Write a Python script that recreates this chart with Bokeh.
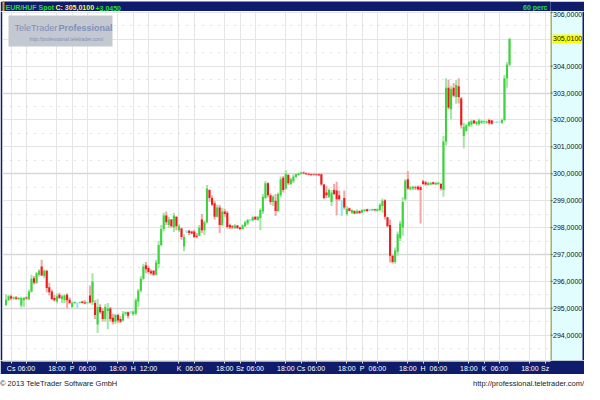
from bokeh.plotting import figure
from bokeh.models import (ColumnDataSource, FixedTicker, Range1d, Label, BoxAnnotation, Grid, Span, Div)
from bokeh.layouts import column, row
from bokeh.core.properties import value
from bokeh.embed import file_html
from bokeh.resources import INLINE

# ---------------- data ----------------
symbol_text = "EUR/HUF Spot"
close_text = "C: 305,0100"
change_text = "+3,0450"
interval_text = "60 perc"
last_price = 305.01
last_price_text = "305,0100"

first_bar = -2   # hourly bar index (0 = Thursday 00:00 of week 1)

opens = [
    295.12, 295.30, 295.45, 295.36, 295.40, 295.35, 295.10, 295.30, 295.40, 295.35,
    295.62, 296.12, 295.95, 296.25, 296.55, 296.20, 296.40, 295.78, 295.62, 295.38,
    295.25, 295.50, 295.35, 295.30, 295.50, 295.32, 295.05, 295.20, 295.20, 295.20,
    295.25, 295.22, 295.20, 295.48, 295.22, 295.20, 294.40, 295.05, 294.90, 294.60,
    294.90, 295.00, 294.65, 294.50, 294.75, 294.60, 294.55, 294.80, 294.85, 294.85,
    294.78, 294.80, 295.25, 295.65, 296.10, 296.60, 296.50, 296.38, 296.40, 296.25,
    296.65, 297.35, 297.95, 298.45, 298.10, 298.30, 298.00, 298.40, 297.90, 297.97,
    297.30, 297.85, 297.88, 297.85, 297.85, 297.70, 297.70, 298.30, 297.90, 298.20,
    299.40, 299.10, 298.90, 298.40, 298.75, 298.10, 298.60, 298.55, 298.10, 298.05,
    297.98, 298.08, 298.00, 297.95, 298.05, 298.15, 298.28, 298.26, 298.40, 298.28,
    298.35, 298.60, 299.10, 299.65, 299.20, 298.95, 299.00, 298.62, 299.20, 299.85,
    299.45, 299.95, 299.62, 299.72, 299.88, 299.95, 300.00, 300.05, 300.02, 300.00,
    299.98, 299.98, 299.98, 299.98, 299.98, 299.60, 299.30, 299.15, 298.95, 299.40,
    299.38, 299.20, 298.70, 299.10, 298.50, 298.72, 298.55, 298.62, 298.52, 298.62,
    298.55, 298.62, 298.68, 298.65, 298.64, 298.68, 298.62, 298.65, 298.80, 299.02,
    298.38, 298.10, 296.95, 296.72, 297.10, 297.60, 298.00, 299.05, 299.80, 299.42,
    299.45, 299.50, 299.52, 299.50, 299.72, 299.68, 299.58, 299.60, 299.68, 299.60,
    299.62, 299.62, 299.40, 301.20, 303.20, 302.40, 303.20, 302.85, 303.25, 302.80,
    301.40, 301.60, 301.78, 301.82, 301.98, 301.85, 301.85, 301.90, 301.92, 301.90,
    302.00, 301.98, 301.92, 301.92, 301.93, 301.90, 302.00, 303.55, 304.05,
]
highs = [
    295.52, 295.50, 295.50, 295.44, 295.46, 295.42, 295.44, 295.42, 295.45, 295.70,
    296.25, 296.20, 296.35, 296.45, 296.80, 296.45, 296.42, 295.95, 295.70, 295.50,
    295.55, 295.58, 295.50, 295.52, 295.56, 295.40, 295.25, 295.25, 295.22, 295.24,
    295.28, 295.30, 295.25, 295.85, 296.30, 295.30, 295.35, 295.15, 295.00, 295.15,
    295.20, 295.05, 294.80, 294.80, 294.80, 294.70, 294.90, 294.88, 294.88, 294.90,
    294.92, 295.38, 295.72, 296.20, 296.66, 296.72, 296.58, 296.45, 296.42, 296.80,
    297.50, 298.10, 298.55, 298.60, 298.40, 298.32, 298.55, 298.42, 298.12, 298.00,
    297.75, 297.90, 297.92, 297.88, 297.92, 297.80, 298.10, 298.50, 298.25, 299.58,
    299.42, 299.20, 299.00, 298.85, 298.85, 298.73, 298.70, 298.62, 298.15, 298.10,
    298.12, 298.10, 298.02, 298.12, 298.25, 298.32, 298.32, 298.42, 298.42, 298.42,
    298.72, 299.25, 299.73, 299.68, 299.28, 299.20, 299.25, 299.30, 299.90, 299.92,
    300.13, 300.00, 299.85, 299.98, 300.02, 300.04, 300.07, 300.08, 300.05, 300.04,
    300.02, 300.02, 300.01, 300.02, 300.00, 299.62, 299.55, 299.45, 299.40, 299.62,
    299.70, 299.38, 299.03, 299.38, 298.80, 298.75, 298.68, 298.64, 298.68, 298.64,
    298.68, 298.70, 298.70, 298.70, 298.70, 298.70, 298.72, 298.90, 299.08, 299.05,
    298.40, 298.30, 297.00, 297.26, 297.85, 298.25, 299.13, 299.80, 300.10, 299.55,
    299.55, 299.55, 299.56, 299.56, 299.78, 299.74, 299.70, 299.70, 299.70, 299.70,
    299.70, 299.66, 301.40, 303.55, 303.50, 303.27, 303.37, 303.49, 303.55, 302.85,
    301.90, 301.86, 301.96, 302.00, 302.00, 301.96, 302.05, 302.00, 301.98, 301.98,
    302.05, 302.00, 301.94, 301.94, 301.95, 302.05, 303.67, 304.15, 305.05,
]
lows = [
    295.08, 295.28, 295.30, 295.32, 295.32, 295.30, 295.02, 295.05, 295.32, 295.30,
    295.58, 295.88, 295.90, 296.18, 296.20, 296.12, 295.60, 295.48, 295.30, 295.25,
    295.18, 295.35, 295.20, 295.20, 295.00, 295.15, 295.00, 295.15, 295.00, 295.18,
    295.18, 295.15, 295.15, 295.18, 295.12, 294.60, 294.08, 294.80, 294.50, 294.50,
    294.22, 294.50, 294.40, 294.42, 294.45, 294.45, 294.52, 294.72, 294.62, 294.80,
    294.72, 294.74, 295.05, 295.60, 296.05, 296.30, 296.28, 296.25, 296.20, 296.22,
    296.50, 297.30, 297.85, 298.10, 297.98, 297.98, 297.84, 297.90, 297.84, 297.55,
    297.12, 297.80, 297.72, 297.75, 297.60, 297.60, 297.68, 297.80, 297.72, 298.15,
    298.96, 298.80, 298.30, 298.38, 297.80, 298.05, 298.40, 297.97, 297.95, 297.95,
    297.95, 297.95, 297.90, 297.92, 298.02, 298.10, 298.25, 298.24, 298.28, 298.25,
    297.90, 298.50, 299.05, 299.12, 298.85, 298.80, 298.43, 298.58, 299.13, 299.30,
    299.40, 299.58, 299.58, 299.66, 299.85, 299.92, 299.96, 299.98, 299.96, 299.94,
    299.92, 299.93, 299.92, 299.92, 299.55, 299.05, 299.10, 299.10, 298.80, 299.20,
    298.45, 299.00, 298.43, 298.67, 298.43, 298.60, 298.50, 298.50, 298.50, 298.50,
    298.53, 298.58, 298.58, 298.62, 298.62, 298.60, 298.60, 298.60, 298.55, 298.30,
    298.00, 296.70, 296.66, 296.66, 296.95, 297.50, 297.70, 299.00, 299.40, 299.38,
    299.40, 299.40, 299.38, 298.15, 299.58, 299.55, 299.55, 299.58, 299.58, 299.58,
    299.58, 299.38, 299.15, 301.05, 302.38, 302.03, 302.84, 302.60, 302.61, 301.68,
    300.95, 301.55, 301.74, 301.75, 301.85, 301.78, 301.78, 301.85, 301.85, 301.86,
    301.82, 301.82, 301.90, 301.88, 301.90, 301.86, 301.95, 303.20, 304.00,
]
closes = [
    295.32, 295.45, 295.36, 295.40, 295.35, 295.38, 295.38, 295.38, 295.36, 295.62,
    296.10, 295.95, 296.30, 296.40, 296.22, 296.40, 295.75, 295.60, 295.35, 295.30,
    295.45, 295.38, 295.45, 295.48, 295.30, 295.20, 295.20, 295.23, 295.20, 295.22,
    295.20, 295.18, 295.22, 295.22, 296.00, 294.75, 295.05, 294.85, 294.60, 295.05,
    295.00, 294.60, 294.50, 294.75, 294.55, 294.50, 294.80, 294.85, 294.72, 294.85,
    294.88, 295.30, 295.65, 296.10, 296.55, 296.45, 296.35, 296.30, 296.25, 296.70,
    297.35, 297.95, 298.45, 298.20, 298.30, 298.05, 298.45, 298.05, 298.05, 297.65,
    297.65, 297.85, 297.80, 297.78, 297.65, 297.66, 298.00, 297.90, 298.20, 299.45,
    299.10, 298.85, 298.40, 298.75, 298.10, 298.60, 298.50, 298.02, 298.00, 298.00,
    298.08, 297.98, 297.95, 298.08, 298.20, 298.28, 298.28, 298.38, 298.30, 298.40,
    298.65, 299.15, 299.65, 299.20, 298.95, 299.15, 298.62, 299.25, 299.80, 299.40,
    300.00, 299.65, 299.80, 299.90, 299.98, 300.02, 300.05, 300.01, 299.98, 299.96,
    299.95, 299.96, 299.95, 299.94, 299.60, 299.10, 299.20, 299.40, 299.30, 299.25,
    299.05, 299.05, 298.70, 298.75, 298.70, 298.62, 298.65, 298.52, 298.62, 298.54,
    298.65, 298.66, 298.62, 298.65, 298.68, 298.64, 298.68, 298.85, 299.00, 298.40,
    298.05, 296.95, 296.72, 297.15, 297.75, 298.15, 298.95, 299.75, 299.45, 299.50,
    299.52, 299.46, 299.42, 299.40, 299.62, 299.60, 299.66, 299.66, 299.62, 299.66,
    299.67, 299.45, 301.20, 303.20, 302.45, 303.15, 302.90, 303.30, 302.85, 301.80,
    301.75, 301.80, 301.92, 301.95, 301.88, 301.93, 301.98, 301.96, 301.95, 301.94,
    301.88, 301.86, 301.92, 301.92, 301.93, 302.00, 303.55, 304.05, 305.01,
]

price_ticks = [294, 295, 296, 297, 298, 299, 300, 301, 302, 303, 304, 306]
grid_levels = [294, 295, 296, 297, 298, 299, 300, 301, 302, 303, 304, 305, 306]
grid_half_levels = [293.5, 294.5, 295.5, 296.5, 297.5, 298.5, 299.5, 300.5, 301.5, 302.5, 303.5, 304.5, 305.5]
grid_strong_levels = [295, 297, 300, 303]

time_ticks = [0, 6, 18, 24, 30, 42, 48, 54, 66, 72, 84, 90, 96, 108,
              114, 120, 132, 138, 144, 156, 162, 168, 180, 186, 192, 204, 210]
time_labels = ["Cs", "06:00", "18:00", "P", "06:00", "18:00", "H", "12:00", "K", "06:00", "18:00", "Sz", "06:00", "18:00",
               "Cs", "06:00", "18:00", "P", "06:00", "18:00", "H", "06:00", "18:00", "K", "06:00", "18:00", "Sz"]

copyright_text = "\u00a9 2013 TeleTrader Software GmbH"
url_text = "http://professional.teletrader.com/"
logo_word1 = "TeleTrader"
logo_word2 = "Professional"

# ---------------- layout / style ----------------
W = 584
HEADER_H, MAIN_H, AXIS_H, FOOT_H = 11, 349, 14, 10
LEFT, PANEL_W = 2, 34
MAIN_W = W - PANEL_W
NAVY = "#0f1c6c"
CYAN_BG = "#e2fdfd"
FONT = "Liberation Sans"

n = len(opens)
assert n == len(highs) == len(lows) == len(closes)
xs = [first_bar + i for i in range(n)]

UP_BODY, UP_WICK = "#3ed23e", "#a2e8a2"
DN_BODY, DN_WICK = "#ee1a1a", "#f5a6a6"
EQ_BODY, EQ_WICK = "#1fd0e0", "#86e8f0"

body_top, body_bot, body_col, wick_col = [], [], [], []
for o, c in zip(opens, closes):
    body_top.append(max(o, c))
    body_bot.append(min(o, c))
    if c > o:
        body_col.append(UP_BODY); wick_col.append(UP_WICK)
    elif c < o:
        body_col.append(DN_BODY); wick_col.append(DN_WICK)
    else:
        body_col.append(EQ_BODY); wick_col.append(EQ_WICK)

src = ColumnDataSource(dict(x=xs, high=highs, low=lows, btop=body_top, bbot=body_bot,
                            bc=body_col, wc=wick_col))

x_range = Range1d(-3.4, 212.1)
y_range = Range1d(293.06, 306.03)

# ---------------- header ----------------
hdr = figure(width=W, height=HEADER_H, x_range=Range1d(0, W), y_range=Range1d(0, HEADER_H),
             toolbar_location=None, output_backend="svg", x_axis_location=None, y_axis_location=None,
             min_border_left=LEFT, min_border_right=PANEL_W, min_border_top=0, min_border_bottom=0,
             background_fill_color=NAVY, border_fill_color=NAVY, outline_line_color=None, title=None)
hdr.grid.visible = False
hdr.add_layout(BoxAnnotation(left=0, right=2, bottom=1, top=HEADER_H, left_units="screen", right_units="screen",
                             top_units="screen", bottom_units="screen", fill_color="#ff9900",
                             fill_alpha=1, line_color=None))
hdr_kw = dict(x_units="screen", y_units="screen", y=2, text_font=FONT, text_font_size="7px",
              text_font_style="bold", text_baseline="bottom")
hdr.add_layout(Label(x=3, text=symbol_text, text_color="#22e022", **hdr_kw))
hdr.add_layout(Label(x=53, text=close_text, text_color="#ffff22", **hdr_kw))
hdr.add_layout(Label(x=93, text=change_text, text_color="#22e022", **hdr_kw))
hdr.add_layout(Label(x=W - LEFT - PANEL_W - 3, text=interval_text, text_color="#22e022",
                     text_align="right", **hdr_kw))

# ---------------- main chart ----------------
main = figure(width=MAIN_W, height=MAIN_H, x_range=x_range, y_range=y_range,
              toolbar_location=None, output_backend="svg", x_axis_location=None, y_axis_location=None,
              min_border_left=LEFT, min_border_right=0, min_border_top=0, min_border_bottom=0,
              background_fill_color="white", border_fill_color=NAVY, outline_line_color=None, title=None)
main.grid.visible = False

main.add_layout(Grid(dimension=0, ticker=FixedTicker(ticks=time_ticks),
                     grid_line_color="#e6e6e6", grid_line_width=1))
main.add_layout(Grid(dimension=1, ticker=FixedTicker(ticks=grid_levels, minor_ticks=grid_half_levels),
                     grid_line_color="#e4e4e4", grid_line_width=1,
                     minor_grid_line_color="#c4c4c4", minor_grid_line_dash="1 7"))
main.add_layout(Grid(dimension=1, ticker=FixedTicker(ticks=grid_strong_levels),
                     grid_line_color="#d8d8d8", grid_line_width=1.5))

main.vbar(x="x", width=0.8, top="high", bottom="low", fill_color="wc", line_color=None, source=src)
main.vbar(x="x", width=0.8, top="btop", bottom="bbot", fill_color="bc", line_color=None, source=src)

# logo box
main.add_layout(BoxAnnotation(left=6, right=110, top=MAIN_H - 4, bottom=MAIN_H - 35,
                              left_units="screen", right_units="screen", top_units="screen",
                              bottom_units="screen", fill_color="#c4c8d0", fill_alpha=1, line_color=None))
logo_kw = dict(x_units="screen", y_units="screen", text_font=FONT, text_color="#8090b8")
main.add_layout(Label(x=12, y=MAIN_H - 21, text=logo_word1, text_font_size="9px", **logo_kw))
main.add_layout(Label(x=56, y=MAIN_H - 21, text=logo_word2, text_font_size="9px", text_font_style="bold", **logo_kw))
main.add_layout(Label(x=27, y=MAIN_H - 30, text=url_text, text_font_size="5px", **logo_kw))

# ---------------- right price panel ----------------
price_labels = [f"{t:.4f}".replace(".", ",") for t in price_ticks]
rp = figure(width=PANEL_W, height=MAIN_H, x_range=Range1d(0, PANEL_W), y_range=y_range,
            toolbar_location=None, output_backend="svg", x_axis_location=None, y_axis_location=None,
            min_border=0, background_fill_color=CYAN_BG, border_fill_color=CYAN_BG,
            outline_line_color=None, title=None)
rp.grid.visible = False
rp.add_layout(Span(location=0.5, dimension="height", line_color="#e0d000", line_width=1))
rp.add_layout(Span(location=0.5, dimension="height", line_color="#1a1a1a", line_width=1, line_dash="1 1"))
rp.segment(x0=0, x1=2, y0=price_ticks, y1=price_ticks, line_color="#1a1a1a", line_width=1)
label_kw = dict(text_font=value(FONT), text_font_size="7px", text_color="#111111")
rp.text(x=2.5, y=price_ticks[:-1], text=price_labels[:-1], text_baseline="middle", **label_kw)
# topmost label sits just below its tick so it stays inside the panel
rp.text(x=2.5, y=price_ticks[-1:], text=price_labels[-1:], text_baseline="top", **label_kw)
rp.rect(x=[16.5], y=[last_price], width=29, height=9, height_units="screen",
        fill_color="#ffff00", line_color=None)
rp.text(x=[2.5], y=[last_price], text=[last_price_text], text_baseline="middle", **label_kw)
rp.add_layout(BoxAnnotation(left=PANEL_W - 2, right=PANEL_W, fill_color=NAVY, fill_alpha=1, line_color=None))

# ---------------- time axis band ----------------
axf = figure(width=W, height=AXIS_H, x_range=x_range, y_range=Range1d(0, 1),
             toolbar_location=None, output_backend="svg", x_axis_location="below", y_axis_location=None,
             min_border_left=LEFT, min_border_right=PANEL_W, min_border_top=0, min_border_bottom=AXIS_H - 2,
             background_fill_color="#c4c4c4", border_fill_color=NAVY, outline_line_color=None, title=None)
axf.grid.visible = False
xa = axf.xaxis[0]
xa.ticker = FixedTicker(ticks=time_ticks)
xa.major_label_overrides = dict(zip(time_ticks, time_labels))
xa.major_label_text_font = FONT
xa.major_label_text_font_size = "7px"
xa.major_label_text_color = "white"
xa.major_label_standoff = 1
xa.major_tick_out = 2
xa.major_tick_in = 0
xa.major_tick_line_color = "#dddddd"
xa.minor_tick_line_color = None
xa.axis_line_color = None

# ---------------- footer ----------------
ftr = Div(text=(f"<div style='display:flex;justify-content:space-between;width:{W}px;height:{FOOT_H}px;"
                f"line-height:{FOOT_H}px;font-family:\"{FONT}\",sans-serif;font-size:7.5px;color:#222;"
                f"background:white;white-space:nowrap;overflow:hidden'>"
                f"<span>{copyright_text}</span><span>{url_text}</span></div>"),
          width=W, height=FOOT_H, margin=(0, 0, 0, 0))

layout = column(hdr, row(main, rp, spacing=0), axf, ftr, spacing=0)
open("out.html", "w").write(file_html(layout, INLINE))
